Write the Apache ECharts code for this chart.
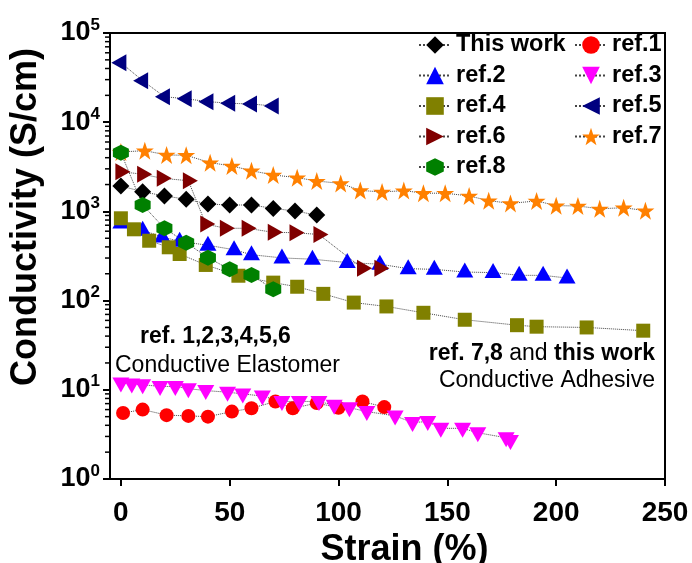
<!DOCTYPE html>
<html>
<head>
<meta charset="utf-8">
<script src="https://cdn.jsdelivr.net/npm/echarts@6/dist/echarts.min.js"></script>
<style>html,body{margin:0;padding:0;background:#fff}#c{width:692px;height:563px}</style>
</head>
<body>
<div id="c"></div>
<script>
// ---- data (strain %, conductivity S/cm) ----
const xThis = [0,10,20,30,40,50,60,70,80,90];
const yThis = [1930,1660,1490,1370,1210,1180,1180,1080,1010,910];
const xRef1 = [1,10,21,31,40,51,60,71,79,90,100,111,121];
const yRef1 = [5.5,6.0,5.2,5.1,5.0,5.7,6.2,7.4,6.2,7.1,6.3,7.4,6.4];
const xRef2 = [0,10,19,27,40,52,60,74,88,104,119,132,144,158,171,183,194,205];
const yRef2 = [740,614,517,462,417,372,327,301,291,267,256,228,224,209,206,192,192,179];
const xRef3 = [0,5,10,18,25,31,39,49,56,65,74,82,91,98,105,113,126,134,141,147,157,164,177,179];
const yRef3 = [11.9,11.6,11.4,10.9,10.9,10.3,9.8,9.4,9.0,8.5,7.4,7.4,7.4,6.7,6.3,5.7,5.1,4.3,4.4,3.7,3.7,3.3,2.9,2.7];
const xRef4 = [0,6,13,22,27,39,54,70,81,93,107,122,139,158,182,191,214,240];
const yRef4 = [837,630,469,396,333,251,190,159,143,119,95,86,73,61,53,51,50,46];
const xRef5 = [0,10,20,30,40,50,60,70];
const yRef5 = [46500,29200,19300,18300,17000,16300,16000,15200];
const xRef6 = [0,10,19,31,39,48,58,70,80,91,111,119];
const yRef6 = [2790,2610,2350,2210,722,647,647,583,577,551,230,230];
const xRef7 = [0,11,21,30,41,51,60,70,81,90,101,110,120,130,139,149,160,169,179,191,200,210,220,231,241];
const yRef7 = [4630,4800,4290,4260,3520,3230,2860,2560,2390,2190,2060,1720,1650,1710,1600,1600,1490,1320,1230,1310,1160,1150,1070,1100,1020];
const xRef8 = [0,10,20,30,40,50,60,70];
const yRef8 = [4550,1180,647,446,303,224,194,134];

const xTicks = [0,50,100,150,200,250];
const yMinorTicks = [];
[1,10,100,1000,10000].forEach(d => { for (let k = 2; k <= 9; k++) yMinorTicks.push(k*d); });

const XMIN = -5, XMAX = 250;
const FONT = '"Liberation Sans", Arial, sans-serif';

const pair = (xs, ys) => xs.map((x,i) => [x, ys[i]]);

const STAR = 'path://M50,0 L61.8,34.5 L97.6,34.5 L68.7,55.9 L79.4,90.5 L50,69.1 L20.6,90.5 L31.3,55.9 L2.4,34.5 L38.2,34.5 Z';
const HEX = 'path://M50,0 L93.3,25 L93.3,75 L50,100 L6.7,75 L6.7,25 Z';
const TRI_UP = 'path://M50,0 L100,87 L0,87 Z';
const TRI_DN = 'path://M0,0 L100,0 L50,87 Z';
const TRI_L = 'path://M0,50 L87,0 L87,100 Z';
const TRI_R = 'path://M0,0 L87,50 L0,100 Z';

const lineStyle = {color:'#444', width:1, type:'dotted'};

function mk(name, xs, ys, symbol, size, color, offset) {
  return {
    name, type:'line', data: pair(xs, ys), symbol, symbolSize:size,
    symbolOffset: offset || [0,0],
    itemStyle:{color, opacity:1}, lineStyle, showSymbol:true, animation:false,
    emphasis:{disabled:true}
  };
}

const series = [
  mk('This work', xThis, yThis, 'diamond', 17, '#000000'),
  mk('ref.1', xRef1, yRef1, 'circle', 14, '#ff0000'),
  mk('ref.2', xRef2, yRef2, TRI_UP, [17,15], '#0000ff', [0,-2]),
  mk('ref.3', xRef3, yRef3, TRI_DN, [17,15], '#ff00ff', [0,2]),
  mk('ref.4', xRef4, yRef4, 'rect', 14, '#808000'),
  mk('ref.5', xRef5, yRef5, TRI_L, [15,17], '#000080', [-2,0]),
  mk('ref.6', xRef6, yRef6, TRI_R, [15,17], '#800000', [2,0]),
  mk('ref.7', xRef7, yRef7, STAR, 18, '#ff8000'),
  mk('ref.8', xRef8, yRef8, HEX, 16, '#008000'),
  {
    type:'custom', silent:true, clip:false, animation:false,
    data: yMinorTicks.map(v => [XMIN, v]),
    renderItem: (params, api) => {
      const p = api.coord([api.value(0), api.value(1)]);
      return {type:'line', shape:{x1:p[0]-5, y1:p[1], x2:p[0], y2:p[1]},
              style:{stroke:'#000', lineWidth:1.5}};
    }
  }
];

const legendText = {fontFamily:FONT, fontWeight:'bold', fontSize:23.5, color:'#000', lineHeight:24};

const option = {
  backgroundColor:'#fff',
  animation:false,
  grid:{left:110, right:27, top:33, bottom:84, show:true, borderColor:'#000', borderWidth:2,
        backgroundColor:'transparent', containLabel:false, outerBoundsMode:'none'},
  xAxis:{
    type:'value', min:XMIN, max:XMAX,
    name:'Strain (%)', nameLocation:'middle', nameGap:44,
    nameTextStyle:{fontFamily:FONT, fontWeight:'bold', fontSize:36, color:'#000', padding:[0,0,0,34]},
    axisLine:{show:true, onZero:false, lineStyle:{color:'#000', width:2}},
    axisTick:{show:true, inside:false, length:7, lineStyle:{color:'#000', width:2}, customValues:xTicks},
    axisLabel:{fontFamily:FONT, fontWeight:'bold', fontSize:28, color:'#000', margin:20, customValues:xTicks},
    splitLine:{show:false}
  },
  yAxis:{
    type:'log', logBase:10, min:1, max:100000,
    name:'Conductivity (S/cm)', nameLocation:'middle', nameGap:66,
    nameTextStyle:{fontFamily:FONT, fontWeight:'bold', fontSize:36, color:'#000', padding:[0,0,0,78]},
    axisLine:{show:true, onZero:false, lineStyle:{color:'#000', width:2}},
    axisTick:{show:true, inside:false, length:7, lineStyle:{color:'#000', width:2}},
    minorTick:{show:false},
    axisLabel:{
      margin:10,
      formatter: v => '{b|10}{s|' + Math.round(Math.log10(v)) + '}',
      rich:{
        b:{fontFamily:FONT, fontWeight:'bold', fontSize:27, color:'#000'},
        s:{fontFamily:FONT, fontWeight:'bold', fontSize:17, color:'#000', padding:[0,0,16,0]}
      }
    },
    splitLine:{show:false}
  },
  legend:[
    {orient:'vertical', left:418, top:33, padding:0, itemGap:6.5, itemWidth:32, itemHeight:22,
     textStyle:legendText, data:['This work','ref.2','ref.4','ref.6','ref.8'], selectedMode:false},
    {orient:'vertical', left:574, top:33, padding:0, itemGap:6.5, itemWidth:32, itemHeight:22,
     textStyle:legendText, data:['ref.1','ref.3','ref.5','ref.7'], selectedMode:false}
  ],
  graphic:[
    {type:'text', left:140, top:325, style:{text:'ref. 1,2,3,4,5,6', font:'bold 23px '+FONT, fill:'#000'}},
    {type:'text', left:115, top:354, style:{text:'Conductive Elastomer', font:'23px '+FONT, fill:'#000'}},
    {type:'text', right:37, top:342, style:{
      text:'{b|ref. 7,8}{n| and }{b|this work}', fill:'#000',
      rich:{b:{font:'bold 23px '+FONT, fill:'#000'}, n:{font:'23px '+FONT, fill:'#000'}}}},
    {type:'text', right:37, top:369, style:{text:'Conductive Adhesive', font:'23px '+FONT, fill:'#000'}}
  ],
  series
};

const chart = echarts.init(document.getElementById('c'), null, {renderer:'canvas'});
chart.setOption(option);
</script>
</body>
</html>
